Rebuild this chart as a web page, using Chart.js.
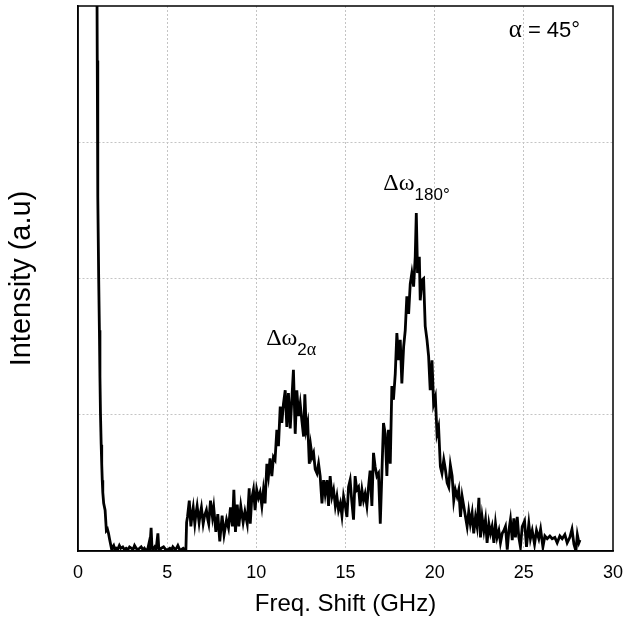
<!DOCTYPE html>
<html>
<head>
<meta charset="utf-8">
<script src="https://cdn.jsdelivr.net/npm/chart.js@4.4.1/dist/chart.umd.min.js"></script>
<style>
  html, body { margin: 0; padding: 0; background: #fff; }
  #wrap { width: 623px; height: 622px; }
</style>
</head>
<body>
<div id="wrap"><canvas id="spectrum"></canvas></div>
<script>
// spectrum, x in GHz, y in arbitrary units (axis runs 0..4)
let freqGHz = [
  1.05, 1.08, 1.11, 1.16, 1.2, 1.23, 1.26, 1.3, 1.33, 1.36, 1.39, 1.44, 1.52, 1.59, 1.65, 1.71, 1.78, 1.89, 1.95,
  2.0, 2.07, 2.14, 2.22, 2.32, 2.4, 2.51, 2.6, 2.7, 2.8, 2.89, 3.0, 3.08, 3.17, 3.26, 3.35, 3.45, 3.54, 3.64, 3.72,
  3.82, 3.92, 3.97, 4.02, 4.1, 4.15, 4.2, 4.3, 4.38, 4.48, 4.53, 4.57, 4.67, 4.8, 4.92, 5.04, 5.15, 5.25, 5.32,
  5.45, 5.52, 5.6, 5.7, 5.79, 5.9, 5.98, 6.05, 6.09, 6.14, 6.24, 6.33, 6.4, 6.46, 6.55, 6.62, 6.68, 6.79, 6.85,
  6.92, 7.02, 7.1, 7.2, 7.28, 7.33, 7.43, 7.54, 7.61, 7.73, 7.84, 7.95, 8.08, 8.19, 8.33, 8.44, 8.55, 8.66, 8.74,
  8.83, 8.93, 9.02, 9.13, 9.26, 9.36, 9.49, 9.6, 9.66, 9.74, 9.84, 9.93, 10.02, 10.12, 10.21, 10.31, 10.4, 10.49,
  10.59, 10.68, 10.77, 10.87, 10.96, 11.05, 11.15, 11.24, 11.34, 11.43, 11.52, 11.62, 11.71, 11.8, 11.9, 11.99,
  12.08, 12.18, 12.27, 12.37, 12.46, 12.55, 12.65, 12.72, 12.8, 12.88, 12.97, 13.05, 13.13, 13.21, 13.3, 13.4,
  13.49, 13.58, 13.68, 13.77, 13.86, 13.96, 14.05, 14.14, 14.24, 14.33, 14.43, 14.52, 14.61, 14.71, 14.8, 14.89,
  14.99, 15.08, 15.17, 15.26, 15.35, 15.45, 15.54, 15.63, 15.73, 15.82, 15.92, 16.01, 16.1, 16.2, 16.29, 16.38,
  16.48, 16.57, 16.66, 16.76, 16.85, 16.95, 17.04, 17.13, 17.23, 17.32, 17.41, 17.51, 17.6, 17.69, 17.79, 17.88,
  17.98, 18.07, 18.16, 18.26, 18.35, 18.44, 18.54, 18.63, 18.72, 18.82, 18.91, 18.97, 19.04, 19.14, 19.19, 19.29,
  19.38, 19.47, 19.57, 19.66, 19.75, 19.85, 19.94, 20.04, 20.13, 20.22, 20.32, 20.41, 20.51, 20.6, 20.7, 20.79,
  20.88, 20.98, 21.07, 21.16, 21.26, 21.35, 21.45, 21.54, 21.63, 21.73, 21.82, 21.91, 22.0, 22.1, 22.19, 22.29,
  22.38, 22.48, 22.57, 22.66, 22.76, 22.85, 22.94, 23.04, 23.13, 23.22, 23.32, 23.41, 23.5, 23.6, 23.69, 23.79,
  23.88, 23.97, 24.07, 24.16, 24.25, 24.35, 24.44, 24.53, 24.63, 24.72, 24.81, 24.91, 25.04, 25.15, 25.28, 25.37,
  25.47, 25.6, 25.71, 25.84, 25.94, 26.07, 26.18, 26.31, 26.46, 26.59, 26.74, 26.87, 27.02, 27.15, 27.3, 27.43,
  27.58, 27.7, 27.81, 27.92, 28.0, 28.09, 28.15
];
let intensity = [
  4.6, 3.6, 2.6, 2.0, 1.62, 1.28, 1.01, 0.78, 0.64, 0.52, 0.43, 0.35, 0.30, 0.15, 0.16, 0.13, 0.08, 0.01, 0.03,
  0.04, 0.01, 0.02, 0.01, 0.04, 0.02, 0.03, 0.01, 0.02, 0.01, 0.03, 0.02, 0.01, 0.04, 0.02, 0.01, 0.02, 0.03, 0.01, 0.02,
  0.0, 0.02, 0.05, 0.01, 0.17, 0.02, 0.01, 0.03, 0.01, 0.13, 0.02, 0.01, 0.02, 0.03, 0.01, 0.01, 0.02, 0.01, 0.03,
  0.01, 0.02, 0.04, 0.01, 0.01, 0.02, 0.01, 0.01, 0.21, 0.25, 0.37, 0.18, 0.27, 0.32, 0.20, 0.28, 0.33, 0.21, 0.27,
  0.32, 0.20, 0.26, 0.30, 0.23, 0.20, 0.37, 0.25, 0.32, 0.14, 0.27, 0.07, 0.26, 0.12, 0.23, 0.17, 0.32, 0.18, 0.45,
  0.14, 0.34, 0.18, 0.33, 0.21, 0.29, 0.20, 0.46, 0.20, 0.38, 0.45, 0.30, 0.45, 0.39, 0.43, 0.33, 0.45, 0.35,
  0.64, 0.55, 0.68, 0.55, 0.69, 0.67, 0.89, 0.77, 1.06, 0.94, 1.08, 1.18, 0.91, 1.16, 0.90, 1.11,
  1.33, 0.86, 1.18, 0.99, 1.08, 0.96, 0.84, 1.15, 0.89, 0.94, 0.64, 0.77, 0.69, 0.72, 0.60, 0.57,
  0.64, 0.55, 0.35, 0.52, 0.42, 0.52, 0.33, 0.55, 0.40, 0.45, 0.33, 0.40, 0.30, 0.35, 0.26, 0.40,
  0.33, 0.25, 0.47, 0.52, 0.37, 0.23, 0.55, 0.45, 0.47, 0.33, 0.45, 0.37, 0.42, 0.33, 0.47, 0.59,
  0.33, 0.72, 0.62, 0.55, 0.57, 0.20, 0.57, 0.94, 0.86, 0.55, 0.89, 0.64, 1.21, 1.11, 1.30, 1.60,
  1.40, 1.55, 1.23, 1.50, 1.62, 1.87, 1.74, 1.96, 2.04, 1.94, 2.16, 2.48, 2.04, 2.16, 1.84, 1.99,
  2.00, 1.65, 1.55, 1.43, 1.18, 1.40, 1.08, 1.13, 0.86, 0.91, 0.62, 0.57, 0.67, 0.60, 0.50, 0.47,
  0.63, 0.55, 0.37, 0.45, 0.40, 0.45, 0.25, 0.40, 0.33, 0.25, 0.18, 0.29, 0.20, 0.28, 0.13, 0.25,
  0.18, 0.39, 0.10, 0.25, 0.15, 0.23, 0.06, 0.20, 0.13, 0.18, 0.06, 0.20, 0.10, 0.15, 0.06, 0.13,
  0.15, 0.18, 0.01, 0.15, 0.23, 0.08, 0.24, 0.10, 0.25, 0.10, 0.03, 0.18, 0.22, 0.03, 0.20, 0.09,
  0.15, 0.05, 0.15, 0.09, 0.16, 0.03, 0.11, 0.09, 0.11, 0.09, 0.10, 0.06, 0.11, 0.09, 0.12, 0.06,
  0.10, 0.16, 0.05, 0.00, 0.12, 0.06, 0.08
];
let xTicks = [0, 5, 10, 15, 20, 25, 30];
let yGridValues = [0, 1, 2, 3, 4];

let sansFont = '"Liberation Sans", Arial, Helvetica, sans-serif';
let serifFont = '"Liberation Serif", "Times New Roman", serif';

let points = [];
for (let i = 0; i < freqGHz.length; i++) {
  points.push({ x: freqGHz[i], y: intensity[i] });
}

// draws a run of [text, font, dy] pieces one after another
function drawPieces(ctx, x, y, pieces) {
  let cx = x;
  for (let i = 0; i < pieces.length; i++) {
    ctx.font = pieces[i][1];
    ctx.fillText(pieces[i][0], cx, y + pieces[i][2]);
    cx = cx + ctx.measureText(pieces[i][0]).width;
  }
}

const boxAndLabels = {
  id: 'boxAndLabels',
  afterDatasetsDraw(chart) {
    const ctx = chart.ctx;
    const area = chart.chartArea;
    const xs = chart.scales.x;
    const ys = chart.scales.y;
    ctx.save();
    ctx.strokeStyle = '#000';
    ctx.lineWidth = 1.5;
    ctx.strokeRect(area.left, area.top, area.right - area.left, area.bottom - area.top);

    ctx.fillStyle = '#000';
    ctx.textBaseline = 'alphabetic';
    ctx.textAlign = 'left';
    // peak labels
    drawPieces(ctx, xs.getPixelForValue(10.55), ys.getPixelForValue(1.51), [
      ['\u0394\u03c9', '24px ' + serifFont, 0],
      ['2', '17px ' + sansFont, 10],
      ['\u03b1', '18px ' + serifFont, 10]
    ]);
    drawPieces(ctx, xs.getPixelForValue(17.12), ys.getPixelForValue(2.65), [
      ['\u0394\u03c9', '24px ' + serifFont, 0],
      ['180\u00b0', '17px ' + sansFont, 10]
    ]);
    drawPieces(ctx, xs.getPixelForValue(24.15), ys.getPixelForValue(3.77), [
      ['\u03b1', '25px ' + serifFont, 0],
      [' = 45\u00b0', '22px ' + sansFont, 0]
    ]);
    ctx.restore();
  }
};

const ctx = document.getElementById('spectrum');
new Chart(ctx, {
  type: 'scatter',
  data: {
    datasets: [{
      data: points,
      showLine: true,
      borderColor: '#000',
      borderWidth: 2.8,
      pointRadius: 0,
      tension: 0
    }]
  },
  options: {
    responsive: true,
    maintainAspectRatio: false,
    animation: false,
    layout: { padding: { top: 6, right: 10, left: 0, bottom: 0 } },
    plugins: { legend: { display: false }, tooltip: { enabled: false } },
    scales: {
      x: {
        type: 'linear',
        min: 0,
        max: 30,
        afterBuildTicks: function(axis) { axis.ticks = xTicks.map(v => ({ value: v })); },
        afterFit: function(scale) {
          scale.height = 71;
          // end labels may hang past the plot box, like in the original
          scale.paddingLeft = 0;
          scale.paddingRight = 0;
        },
        border: { display: true, color: '#000', width: 1.5, dash: [2, 2] },
        grid: {
          drawTicks: false,
          color: function(c) { return (c.tick.value == 0 || c.tick.value == 30) ? 'rgba(0,0,0,0)' : '#c4c4c4'; },
          lineWidth: 1
        },
        ticks: { color: '#000', padding: 11, maxRotation: 0, font: { family: sansFont, size: 18 } },
        title: {
          display: true,
          text: 'Freq. Shift (GHz)',
          color: '#000',
          font: { family: sansFont, size: 24 },
          padding: { top: 0, bottom: 3 }
        }
      },
      y: {
        min: 0,
        max: 4,
        afterBuildTicks: function(axis) { axis.ticks = yGridValues.map(v => ({ value: v })); },
        afterFit: function(scale) { scale.width = 78; },
        border: { display: true, color: '#000', width: 1.5, dash: [2, 2] },
        grid: {
          drawTicks: false,
          color: function(c) { return (c.tick.value == 0 || c.tick.value == 4) ? 'rgba(0,0,0,0)' : '#c4c4c4'; },
          lineWidth: 1
        },
        ticks: { display: false },
        title: {
          display: true,
          text: 'Intensity (a.u)',
          color: '#000',
          font: { family: sansFont, size: 29 },
          padding: { top: 5, bottom: 0 }
        }
      }
    }
  },
  plugins: [boxAndLabels]
});
</script>
</body>
</html>
